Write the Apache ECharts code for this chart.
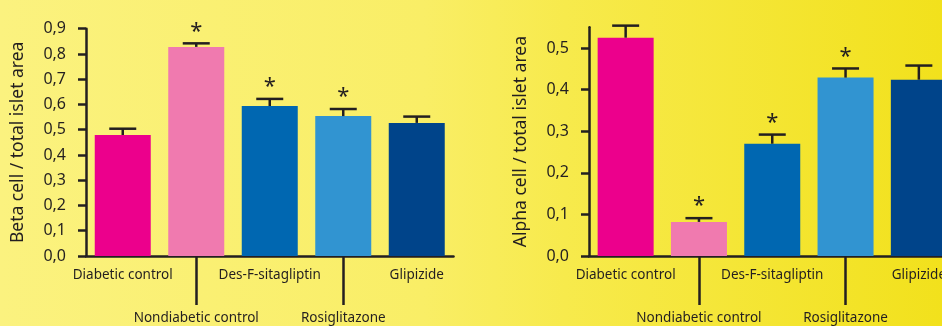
<!DOCTYPE html>
<html>
<head>
<meta charset="utf-8">
<script src="https://cdn.jsdelivr.net/npm/echarts@6/dist/echarts.min.js"></script>
<style>
html,body{margin:0;padding:0;}
#chart{width:942px;height:326px;}
</style>
</head>
<body>
<div id="chart"></div>
<script>
const categories = ['Diabetic control', 'Nondiabetic control', 'Des-F-sitagliptin', 'Rosiglitazone', 'Glipizide'];
const barColors = ['#EC008C', '#F07AAF', '#0067B1', '#3194D1', '#00448A'];

const betaValues = [0.479, 0.828, 0.594, 0.554, 0.527];
const betaErrors = [0.025, 0.014, 0.028, 0.028, 0.025];
const betaStars = [false, true, true, true, false];
const betaTicks = [0, 0.1, 0.2, 0.3, 0.4, 0.5, 0.6, 0.7, 0.8, 0.9];

const alphaValues = [0.525, 0.082, 0.270, 0.429, 0.424];
const alphaErrors = [0.029, 0.009, 0.022, 0.022, 0.034];
const alphaStars = [false, true, true, true, false];
const alphaTicks = [0, 0.1, 0.2, 0.3, 0.4, 0.5];

const ink = '#231F20';
const font = 'Noto Sans';

function fmt(v) { return v.toFixed(1).replace('.', ','); }

function xAxisDef(gridIndex) {
  return {
    type: 'category', gridIndex: gridIndex, data: categories,
    axisLine: { lineStyle: { color: ink, width: 2.5 } },
    axisTick: {
      show: true, alignWithLabel: true, length: 49,
      interval: function (i) { return i % 2 === 1; },
      lineStyle: { color: ink, width: 2.5 }
    },
    axisLabel: {
      interval: 0, margin: 12, color: ink, fontFamily: font, fontSize: 13.5,
      formatter: function (v, i) {
        return i % 2 === 1 ? '{gap| }\n{t|' + v + '}' : '{t|' + v + '}';
      },
      rich: {
        gap: { lineHeight: 43, fontSize: 12 },
        t: { lineHeight: 15, fontSize: 13.5, color: ink, fontFamily: font }
      }
    }
  };
}

function yAxisDef(gridIndex, max, ticks, name) {
  return {
    type: 'value', gridIndex: gridIndex, min: 0, max: max, interval: 0.1,
    name: name, nameLocation: 'middle', nameGap: 59,
    nameTextStyle: { color: ink, fontFamily: font, fontSize: 17.5 },
    splitLine: { show: false },
    axisLine: { show: true, lineStyle: { color: ink, width: 2.5 } },
    axisTick: { show: true, length: 8, customValues: ticks, lineStyle: { color: ink, width: 2.5 } },
    axisLabel: {
      customValues: ticks, margin: 20, color: ink, fontFamily: font, fontSize: 16,
      padding: [0, 0, 9, 0],
      formatter: function (v) { return fmt(v); }
    }
  };
}

function barSeries(idx, values) {
  return {
    type: 'bar', xAxisIndex: idx, yAxisIndex: idx, barWidth: 56,
    data: values.map(function (v, i) { return { value: v, itemStyle: { color: barColors[i] } }; }),
    z: 2
  };
}

function errSeries(idx, values, errs, stars) {
  return {
    type: 'custom', xAxisIndex: idx, yAxisIndex: idx, z: 3,
    data: values.map(function (v, i) { return [i, v, v + errs[i], stars[i] ? 1 : 0]; }),
    renderItem: function (params, api) {
      const p0 = api.coord([api.value(0), api.value(1)]);
      const p1 = api.coord([api.value(0), api.value(2)]);
      const children = [
        { type: 'line', shape: { x1: p0[0], y1: p0[1], x2: p1[0], y2: p1[1] }, style: { stroke: ink, lineWidth: 2.5 } },
        { type: 'line', shape: { x1: p1[0] - 13.5, y1: p1[1], x2: p1[0] + 13.5, y2: p1[1] }, style: { stroke: ink, lineWidth: 2.5 } }
      ];
      if (api.value(3)) {
        children.push({
          type: 'text',
          style: { text: '*', x: p1[0], y: p1[1] - 12, align: 'center', verticalAlign: 'middle', fill: ink, font: '22px "' + font + '"' }
        });
      }
      return { type: 'group', children: children };
    }
  };
}

const chart = echarts.init(document.getElementById('chart'), null, { renderer: 'canvas' });
chart.setOption({
  animation: false,
  backgroundColor: {
    type: 'linear', x: 0, y: 0, x2: 1, y2: 0,
    colorStops: [
      { offset: 0, color: '#FBF27F' },
      { offset: 0.45, color: '#F9EE66' },
      { offset: 0.6, color: '#F7EA4C' },
      { offset: 1, color: '#F2E11C' }
    ]
  },
  grid: [
    { left: 86, top: 28.7, width: 367.5, bottom: 70, outerBoundsMode: 'none' },
    { left: 589, top: 27.3, width: 366.5, bottom: 70, outerBoundsMode: 'none' }
  ],
  xAxis: [xAxisDef(0), xAxisDef(1)],
  yAxis: [
    yAxisDef(0, 0.9, betaTicks, 'Beta cell / total islet area'),
    yAxisDef(1, 0.55, alphaTicks, 'Alpha cell / total islet area')
  ],
  series: [
    barSeries(0, betaValues),
    errSeries(0, betaValues, betaErrors, betaStars),
    barSeries(1, alphaValues),
    errSeries(1, alphaValues, alphaErrors, alphaStars)
  ]
});
</script>
</body>
</html>
